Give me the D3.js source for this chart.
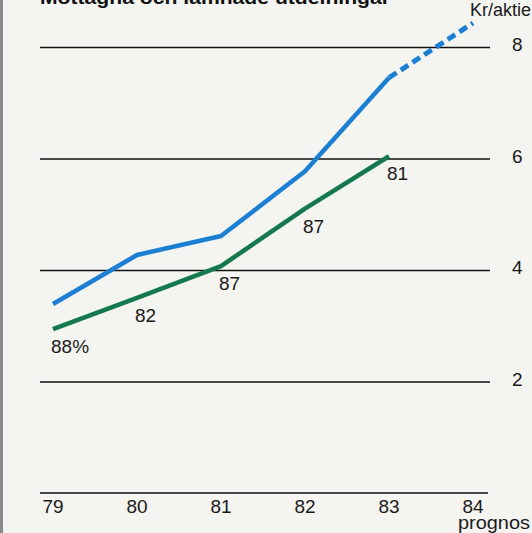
<!DOCTYPE html>
<html>
<head>
<meta charset="utf-8">
<script src="https://cdn.jsdelivr.net/npm/d3@7"></script>
<style>
  html, body { margin: 0; padding: 0; background: #f4f4f1; }
  svg { display: block; font-family: "Liberation Sans", Arial, sans-serif; }
  .tick line { stroke: #111; }
  .tick text { fill: #1a1a1a; font-size: 19px; }
</style>
</head>
<body>
<svg id="chart" width="532" height="533"></svg>
<script>
// Years on the x axis; 84 is a forecast ("prognos")
const years = ["79", "80", "81", "82", "83", "84"];
// Received dividend, kr per share (last value is the forecast)
const received = [3.39, 4.27, 4.61, 5.77, 7.45, 8.43];
// Paid dividend, kr per share
const paid = [2.94, 3.50, 4.07, 5.10, 6.04];
// Percentage labels along the paid-dividend line
const paidLabels = ["88%", "82", "87", "87", "81"];
// Gridline values
const yTicks = [2, 4, 6, 8];

const svg = d3.select("#chart");
const W = 532, H = 533;

svg.append("rect").attr("width", W).attr("height", H).attr("fill", "#f4f4f1");
// page edge on the left
svg.append("rect").attr("x", 0).attr("y", 0).attr("width", 3).attr("height", H).attr("fill", "#8a8a8a");

const x = d3.scalePoint().domain(years).range([53, 473]);
const y = d3.scaleLinear().domain([0, 8]).range([493, 47]);

// Title, cut off by the top edge
svg.append("text")
  .attr("x", 40).attr("y", 4)
  .attr("textLength", 350).attr("lengthAdjust", "spacingAndGlyphs")
  .attr("font-size", 18).attr("font-weight", "bold").attr("fill", "#111")
  .text("Mottagna och lämnade utdelningar");

svg.append("text")
  .attr("x", 531).attr("y", 16)
  .attr("text-anchor", "end").attr("font-size", 18).attr("fill", "#1a1a1a")
  .text("Kr/aktie");

// Horizontal gridlines with values on the right
const yAxis = svg.append("g")
  .attr("transform", "translate(490,0)")
  .call(d3.axisRight(y).tickValues(yTicks).tickSize(-450).tickPadding(22).tickFormat(d3.format("d")));
yAxis.select(".domain").remove();
yAxis.selectAll(".tick line").attr("stroke-width", 1.5);
yAxis.selectAll(".tick text").attr("dy", "0.2em");

// Baseline and year labels
const xAxis = svg.append("g")
  .attr("transform", "translate(0," + y(0) + ")")
  .call(d3.axisBottom(x).tickSize(0).tickPadding(7));
xAxis.select(".domain").remove();
xAxis.selectAll(".tick text").attr("text-anchor", "start").attr("dx", -11).attr("dy", "0.68em");
svg.append("line")
  .attr("x1", 40).attr("x2", 488).attr("y1", y(0)).attr("y2", y(0))
  .attr("stroke", "#111").attr("stroke-width", 1.5);
svg.append("text")
  .attr("x", 458).attr("y", 529).attr("font-size", 17.5).attr("fill", "#1a1a1a")
  .attr("textLength", 72).attr("lengthAdjust", "spacingAndGlyphs")
  .text("prognos");

const line = d3.line()
  .x((d, i) => x(years[i]))
  .y(d => y(d));

// Received: solid through 83, dashed forecast to 84
const actual = received.slice(0, 5);
svg.append("path")
  .attr("d", line(actual))
  .attr("fill", "none").attr("stroke", "#1b7fd3").attr("stroke-width", 4.5)
  .attr("stroke-linejoin", "round");
const lineFc = d3.line()
  .x((d, i) => x(years[i + 4]))
  .y(d => y(d));
svg.append("path")
  .attr("d", lineFc(received.slice(4)))
  .attr("fill", "none").attr("stroke", "#1b7fd3").attr("stroke-width", 5)
  .attr("stroke-dasharray", "9,5");

// Paid
svg.append("path")
  .attr("d", line(paid))
  .attr("fill", "none").attr("stroke", "#14794c").attr("stroke-width", 4.5)
  .attr("stroke-linejoin", "round");

svg.selectAll(".plabel")
  .data(paid)
  .enter().append("text")
  .attr("class", "plabel")
  .attr("x", (d, i) => x(years[i]) - 2)
  .attr("y", d => y(d) + 24)
  .attr("font-size", 19).attr("fill", "#1a1a1a")
  .text((d, i) => paidLabels[i]);
</script>
</body>
</html>
